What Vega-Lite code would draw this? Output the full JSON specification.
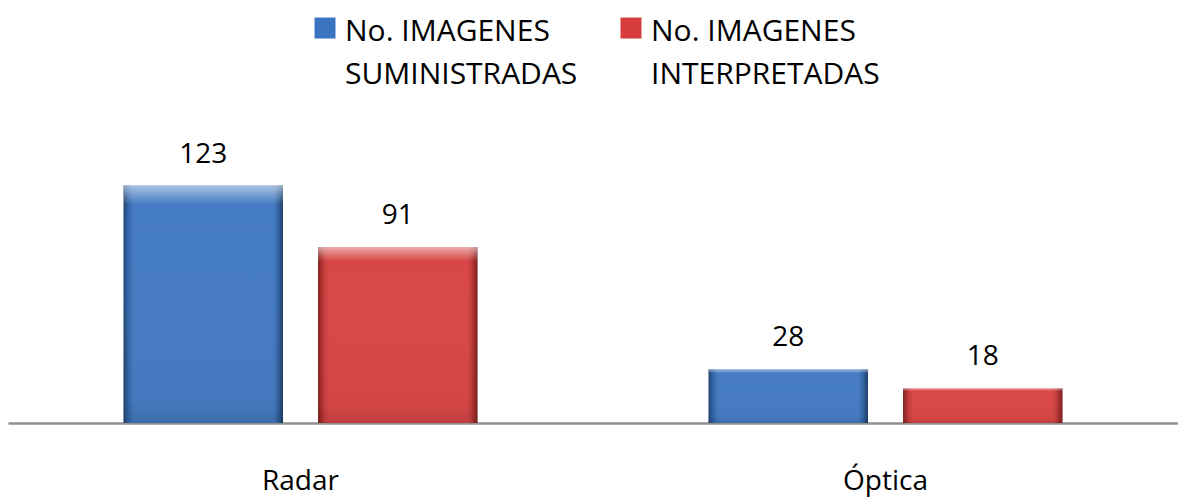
{
  "$schema": "https://vega.github.io/schema/vega-lite/v6.json",
  "width": 1170,
  "height": 260,
  "autosize": "none",
  "padding": {"left": 8, "top": 163, "right": 0, "bottom": 76},
  "background": "white",
  "config": {
    "view": {"stroke": null},
    "font": "Open Sans",
    "style": {"guide-label": {"lineHeight": 43}}
  },
  "data": {
    "values": [
      {"cat": "Radar", "serie": "No. IMAGENES SUMINISTRADAS", "v": 123},
      {"cat": "Radar", "serie": "No. IMAGENES INTERPRETADAS", "v": 91},
      {"cat": "Óptica", "serie": "No. IMAGENES SUMINISTRADAS", "v": 28},
      {"cat": "Óptica", "serie": "No. IMAGENES INTERPRETADAS", "v": 18}
    ]
  },
  "encoding": {
    "x": {
      "field": "cat",
      "type": "nominal",
      "sort": ["Radar", "Óptica"],
      "scale": {"paddingInner": 0.395, "paddingOuter": 0.1975},
      "axis": {
        "title": null,
        "labelAngle": 0,
        "ticks": false,
        "domainColor": "#909090",
        "domainWidth": 2.5,
        "labelFont": "Open Sans",
        "labelFontSize": 28,
        "labelColor": "#000000",
        "labelBaseline": "alphabetic",
        "labelPadding": 66
      }
    },
    "xOffset": {
      "field": "serie",
      "type": "nominal",
      "sort": ["No. IMAGENES SUMINISTRADAS", "No. IMAGENES INTERPRETADAS"],
      "scale": {"paddingInner": 0.18, "paddingOuter": 0}
    },
    "y": {
      "field": "v",
      "type": "quantitative",
      "scale": {"domain": [0, 134.7], "nice": false, "zero": true},
      "axis": null
    }
  },
  "layer": [
    {
      "mark": {"type": "bar"},
      "encoding": {
        "color": {
          "field": "serie",
          "type": "nominal",
          "scale": {
            "domain": ["No. IMAGENES SUMINISTRADAS", "No. IMAGENES INTERPRETADAS"],
            "range": ["#3a74c0", "#d63c3c"]
          },
          "legend": {
            "title": null,
            "orient": "none",
            "direction": "horizontal",
            "legendX": 302,
            "legendY": -161,
            "padding": 0,
            "symbolType": "M-1,0.05H1V2.05H-1Z",
            "symbolSize": 441,
            "symbolStrokeWidth": 0,
            "labelFont": "Open Sans",
            "labelFontSize": 30,
            "labelColor": "#000000",
            "labelOffset": 5,
            "labelLimit": 400,
            "labelBaseline": "top",
            "columnPadding": 38,
            "labelExpr": "datum.label == 'No. IMAGENES SUMINISTRADAS' ? ['No. IMAGENES', 'SUMINISTRADAS'] : ['No. IMAGENES', 'INTERPRETADAS']"
          }
        }
      }
    },
    {
      "mark": {
        "type": "bar",
        "fill": {
          "gradient": "linear",
          "x1": 0, "y1": 0, "x2": 1, "y2": 0,
          "stops": [
            {"offset": 0, "color": "rgba(0,0,0,0.4)"},
            {"offset": 0.03, "color": "rgba(0,0,0,0.12)"},
            {"offset": 0.07, "color": "rgba(255,255,255,0.06)"},
            {"offset": 0.93, "color": "rgba(255,255,255,0.06)"},
            {"offset": 0.97, "color": "rgba(0,0,0,0.15)"},
            {"offset": 1, "color": "rgba(0,0,0,0.45)"}
          ]
        }
      }
    },
    {
      "mark": {
        "type": "bar",
        "fill": {
          "gradient": "linear",
          "x1": 0, "y1": 0, "x2": 0, "y2": 1,
          "stops": [
            {"offset": 0, "color": "rgba(255,255,255,0.55)"},
            {"offset": 0.04, "color": "rgba(255,255,255,0.25)"},
            {"offset": 0.08, "color": "rgba(255,255,255,0.0)"},
            {"offset": 0.9, "color": "rgba(0,0,0,0.03)"},
            {"offset": 1, "color": "rgba(0,0,0,0.12)"}
          ]
        }
      }
    },
    {
      "mark": {
        "type": "text",
        "baseline": "alphabetic",
        "dy": -23,
        "font": "Open Sans",
        "fontSize": 28,
        "color": "#000000"
      },
      "encoding": {
        "text": {"field": "v", "type": "quantitative"}
      }
    }
  ]
}
